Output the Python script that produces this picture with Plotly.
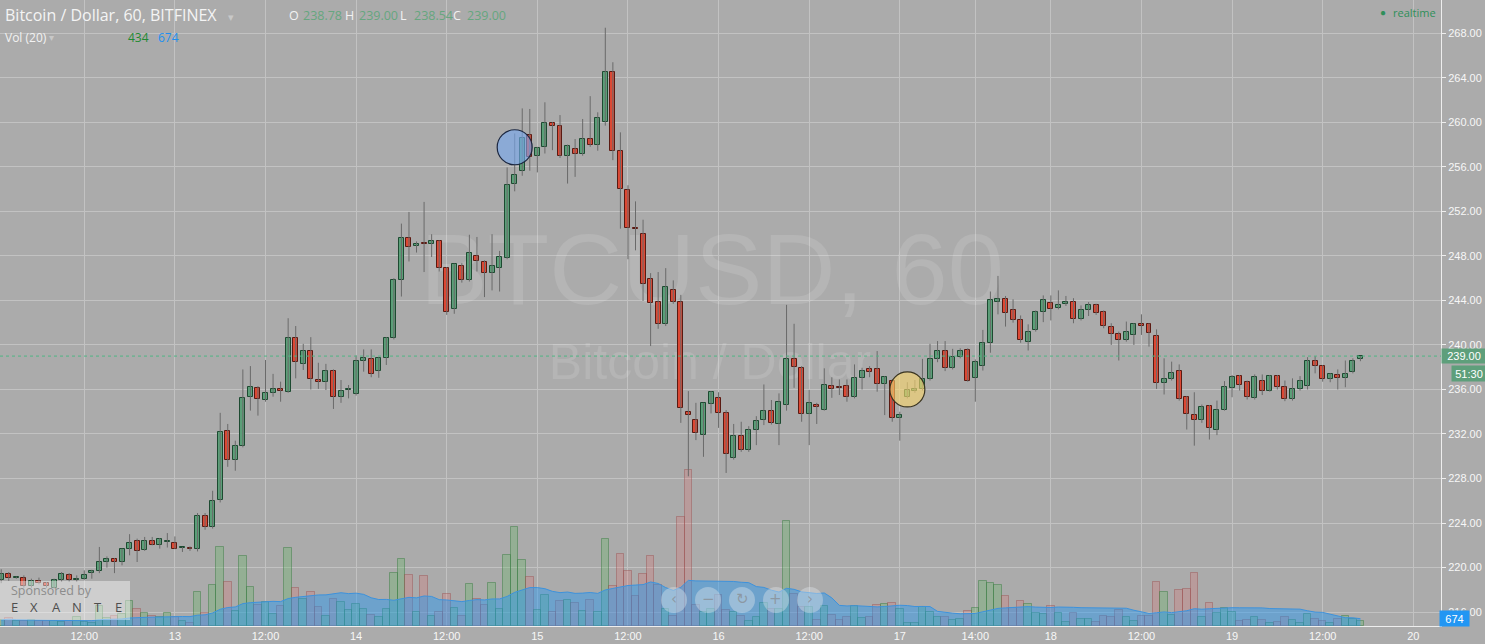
import plotly.graph_objects as go
import pandas as pd

# ---------------- data (hourly bars, BTC/USD Bitfinex) ----------------
opens = [218.85, 219.4, 219.08, 219.1, 218.3, 218.75, 218.6, 218.2, 218.85, 219.3,
         218.85, 219.0, 219.5, 219.7, 220.5, 220.75, 220.5, 221.65, 222.35, 221.55,
         222.35, 222.0, 222.33, 222.25, 221.78, 221.8, 221.65, 224.6, 223.6, 226.1,
         232.25, 229.65, 230.9, 235.3, 236.1, 235.05, 235.65, 236.0, 235.8, 240.6,
         238.3, 239.5, 236.8, 236.7, 237.7, 235.3, 235.98, 235.6, 238.6, 238.7,
         237.7, 238.8, 240.6, 245.8, 249.65, 248.85, 249.12, 249.05, 249.3, 246.9,
         243.25, 247.05, 245.85, 247.95, 247.45, 246.5, 246.95, 247.85, 254.45, 255.6,
         258.9, 256.95, 257.8, 259.9, 259.7, 256.95, 257.6, 257.15, 258.5, 257.95,
         260.0, 264.5, 257.4, 253.9, 250.55, 249.95, 245.9, 243.85, 241.85, 244.9,
         243.9, 233.95, 233.3, 231.95, 234.7, 235.2, 233.85, 229.8, 231.8, 230.55,
         232.35, 233.3, 234.05, 232.9, 234.65, 238.7, 237.9, 233.8, 234.65, 234.2,
         236.35, 236.18, 236.35, 235.3, 237.0, 237.8, 237.8, 236.45, 236.8, 233.4,
         235.35, 235.85, 236.0, 236.9, 238.7, 239.45, 237.9, 238.9, 239.55, 237.0,
         238.1, 240.15, 243.9, 244.1, 243.1, 242.2, 240.25, 241.3, 243.0, 243.75,
         243.3, 243.65, 243.9, 242.3, 243.1, 243.55, 242.95, 241.6, 240.95, 240.4,
         240.85, 241.82, 241.85, 240.8, 236.55, 236.95, 237.65, 235.3, 233.75, 233.3,
         234.5, 232.4, 234.2, 236.1, 237.2, 236.65, 235.2, 236.8, 235.9, 237.2,
         236.2, 235.1, 236.0, 236.3, 238.6, 238.15, 236.9, 237.3, 237.0, 237.55,
         238.78]
highs = [219.85, 219.6, 219.2, 219.3, 219.0, 219.1, 218.7, 219.0, 219.6, 219.5,
         219.3, 219.75, 219.8, 221.85, 221.0, 220.85, 221.7, 223.0, 222.6, 222.75,
         222.75, 222.65, 223.1, 222.8, 221.85, 221.9, 224.9, 224.9, 226.9, 233.9,
         232.9, 231.4, 237.8, 238.1, 236.3, 238.65, 237.4, 236.7, 242.4, 241.7,
         240.1, 240.7, 238.4, 238.3, 237.8, 236.85, 236.4, 239.05, 239.6, 239.6,
         238.9, 240.7, 246.0, 250.9, 251.95, 249.3, 252.85, 249.95, 249.4, 247.0,
         247.3, 247.35, 249.9, 249.7, 247.6, 249.95, 248.45, 255.95, 259.0, 261.25,
         261.2, 257.8, 261.8, 260.0, 260.65, 258.0, 258.5, 260.3, 262.35, 260.9,
         268.5, 265.4, 259.1, 254.35, 252.9, 251.25, 246.45, 246.55, 246.9, 245.8,
         244.5, 235.85, 234.8, 234.8, 235.85, 235.75, 234.15, 232.9, 233.1, 232.7,
         233.6, 236.45, 235.05, 235.65, 243.6, 241.9, 238.1, 235.95, 234.8, 237.9,
         237.1, 236.9, 236.9, 238.25, 237.95, 238.1, 239.45, 237.2, 236.9, 234.0,
         236.65, 236.85, 238.75, 240.1, 240.35, 240.35, 239.65, 239.7, 239.7, 238.7,
         241.35, 244.8, 246.2, 244.4, 244.1, 242.65, 241.85, 243.1, 244.45, 244.45,
         244.9, 244.4, 244.2, 243.55, 243.85, 243.7, 243.1, 241.95, 241.2, 242.1,
         241.95, 242.75, 241.95, 241.4, 238.8, 238.5, 238.25, 235.4, 235.75, 234.65,
         234.6, 235.0, 236.75, 237.3, 237.3, 236.8, 237.35, 237.35, 237.3, 237.3,
         236.8, 237.0, 237.2, 238.9, 239.0, 238.2, 237.45, 237.8, 238.6, 238.8,
         239.0]
lows = [218.6, 218.8, 219.0, 218.2, 218.2, 218.5, 218.2, 218.1, 218.7, 218.7,
        218.7, 218.9, 219.0, 219.5, 220.0, 219.5, 220.2, 221.1, 220.5, 221.5,
        222.0, 221.7, 221.8, 221.65, 221.4, 221.5, 221.45, 223.4, 223.5, 225.85,
        229.05, 228.7, 230.8, 234.1, 233.65, 234.9, 235.35, 234.9, 235.7, 237.0,
        237.75, 236.0, 236.05, 235.95, 234.25, 234.8, 235.2, 235.45, 237.6, 237.1,
        237.05, 238.2, 240.5, 244.35, 247.5, 248.3, 246.55, 247.9, 246.6, 242.7,
        242.8, 245.6, 245.7, 246.6, 244.3, 244.9, 244.8, 247.7, 253.8, 255.2,
        255.65, 255.5, 257.2, 257.5, 256.8, 254.5, 255.1, 257.0, 257.8, 257.45,
        259.7, 256.6, 250.45, 247.7, 248.5, 243.95, 239.9, 241.45, 241.7, 243.7,
        233.0, 228.2, 231.45, 229.95, 233.85, 232.55, 228.5, 229.7, 230.4, 230.4,
        231.0, 232.8, 232.85, 231.0, 234.1, 236.15, 233.1, 231.0, 232.9, 234.1,
        235.25, 235.5, 234.9, 235.2, 236.0, 237.1, 235.8, 233.7, 233.1, 231.4,
        235.2, 235.7, 235.9, 236.8, 238.45, 237.65, 237.8, 238.8, 236.7, 234.9,
        237.7, 239.3, 242.75, 241.65, 242.0, 240.2, 239.5, 241.2, 242.05, 242.2,
        243.2, 243.5, 241.95, 242.2, 242.6, 242.7, 241.5, 240.0, 238.6, 240.3,
        240.0, 240.9, 239.85, 236.05, 235.55, 236.8, 235.0, 232.4, 230.95, 233.0,
        231.5, 231.9, 234.1, 235.3, 235.9, 235.1, 235.1, 235.5, 235.8, 236.0,
        234.95, 235.0, 235.9, 236.0, 237.45, 236.7, 236.65, 236.0, 236.2, 237.45,
        238.54]
closes = [219.4, 219.1, 219.12, 218.3, 218.75, 218.6, 218.3, 218.85, 219.4, 218.85,
          219.0, 219.3, 219.7, 220.5, 220.75, 220.5, 221.65, 222.2, 221.5, 222.35,
          222.0, 222.55, 222.37, 221.7, 221.82, 221.65, 224.6, 223.6, 225.95, 232.15,
          229.65, 230.9, 235.2, 236.2, 235.1, 235.65, 236.05, 235.9, 240.6, 238.5,
          239.5, 236.9, 236.7, 237.7, 235.3, 235.9, 236.02, 238.6, 238.8, 237.35,
          238.8, 240.6, 245.8, 249.65, 248.8, 249.1, 249.08, 249.3, 246.9, 243.0,
          247.25, 245.85, 248.25, 247.5, 246.5, 247.05, 247.9, 254.35, 255.25, 258.55,
          256.9, 257.65, 259.9, 259.7, 256.95, 257.85, 257.15, 258.5, 257.95, 260.35,
          264.5, 257.4, 254.0, 250.55, 250.4, 245.5, 243.8, 241.85, 245.25, 243.9,
          234.3, 233.75, 232.1, 234.75, 235.75, 233.9, 230.2, 231.8, 230.55, 232.35,
          233.15, 234.05, 233.0, 234.85, 238.7, 238.05, 233.8, 234.75, 234.45, 236.4,
          236.05, 236.12, 235.3, 237.0, 237.65, 237.55, 236.45, 237.1, 233.4, 233.7,
          235.95, 236.05, 236.95, 238.7, 239.45, 237.9, 238.95, 239.45, 236.8, 238.45,
          240.15, 244.0, 244.1, 242.85, 242.2, 240.4, 241.2, 243.0, 244.0, 243.2,
          243.55, 243.85, 242.3, 243.1, 243.55, 242.85, 241.7, 240.95, 240.4, 241.15,
          241.85, 241.78, 241.05, 236.55, 236.95, 237.5, 235.1, 233.8, 233.3, 234.45,
          232.5, 234.2, 236.2, 237.1, 236.4, 235.3, 237.1, 235.9, 237.2, 236.2,
          235.1, 236.0, 236.8, 238.55, 238.15, 236.9, 237.35, 237.0, 237.35, 238.6,
          239.0]
volumes = [560, 720, 470, 470, 560, 470, 470, 470, 370, 470,
           810, 370, 250, 1870, 750, 940, 1120, 2340, 1560, 1190,
           940, 870, 1190, 810, 500, 250, 3150, 1190, 3810, 7360,
           4110, 1400, 6520, 3620, 1940, 2240, 1090, 1840, 7260, 3520,
           2520, 3180, 1750, 940, 2520, 2220, 1500, 2030, 1590, 1000,
           810, 1590, 4960, 6240, 4740, 1280, 4650, 940, 1280, 2960,
           1650, 940, 3900, 2520, 1960, 4020, 1590, 6640, 9260, 6170,
           4580, 1500, 2900, 1280, 2340, 2430, 2150, 1400, 2430, 1280,
           8130, 3740, 6730, 5140, 2810, 4860, 6550, 3830, 1560, 910,
           10190, 14590, 1960, 1280, 1560, 2900, 1500, 1280, 960, 500,
           840, 2150, 1590, 1590, 9820, 2990, 1800, 1800, 560, 1870,
           1060, 560, 870, 1870, 780, 870, 1960, 2060, 2150, 1590,
           280, 280, 1800, 1340, 870, 870, 560, 630, 1400, 1650,
           4180, 3990, 3810, 2780, 1650, 2310, 2030, 1190, 1090, 1840,
           1190, 350, 1190, 630, 630, 350, 910, 810, 1470, 810,
           440, 910, 910, 4090, 3150, 1000, 3340, 3430, 4930, 810,
           2120, 1190, 1650, 1280, 440, 530, 810, 530, 250, 350,
           810, 530, 250, 1090, 630, 440, 250, 630, 910, 630,
           434]

# x-axis ticks (bar index -> label)
tick_pos = [11, 23, 35, 47, 59, 71, 83, 95, 107, 119, 129, 139, 151, 163, 175, 187]
tick_text = ["12:00", "13", "12:00", "14", "12:00", "15", "12:00", "16",
             "12:00", "17", "14:00", "18", "12:00", "19", "12:00", "20"]
price_ticks = [216, 220, 224, 228, 232, 236, 240, 244, 248, 252, 256, 260, 264, 268]

# drawn circle markers (bar index, price)
marker_idx = [68, 120]
marker_price = [257.76, 236.0]

# header texts
title_text = "Bitcoin / Dollar, 60, BITFINEX"
vol_label = "Vol (20)"
vol_last_text = "434"
vol_ma_text = "674"
countdown_text = "51:30"

# ---------------- styling ----------------
BG = "#ababab"
GRID = "#c2c2c2"
UP_FILL, UP_EDGE = "#5b9f78", "#1d4a31"
DN_FILL, DN_EDGE = "#dc4834", "#5a1a12"
WICK = "#6a6a6a"
AXIS_TXT = "#f7f7f7"
W_PLOT, H_PLOT = 1441, 626
X_RANGE = [-0.16, 190.67]
P_RANGE = [214.75, 270.99]
V_RANGE = [0, 58500]


def pxx(x):
    return x / W_PLOT


def pxy(y):
    return 1 - y / H_PLOT


n = len(closes)
idx = list(range(n))
up = [c >= o for o, c in zip(opens, closes)]

fig = go.Figure()

# watermark (drawn first, under everything)
fig.add_trace(go.Scatter(
    x=[X_RANGE[0] + pxx(712) * (X_RANGE[1] - X_RANGE[0])],
    y=[V_RANGE[1] * (1 - 279 / H_PLOT)],
    mode="text", text=["BTCUSD, 60"], textposition="middle center",
    textfont=dict(family="Liberation Sans, Arial", size=101, color="rgba(255,255,255,0.12)"),
    hoverinfo="skip", xaxis="x", yaxis="y"))
fig.add_trace(go.Scatter(
    x=[X_RANGE[0] + pxx(710) * (X_RANGE[1] - X_RANGE[0])],
    y=[V_RANGE[1] * (1 - 366 / H_PLOT)],
    mode="text", text=["Bitcoin / Dollar"], textposition="middle center",
    textfont=dict(family="Liberation Sans, Arial", size=50, color="rgba(255,255,255,0.12)"),
    hoverinfo="skip", xaxis="x", yaxis="y"))

# volume bars
fig.add_trace(go.Bar(
    x=idx, y=volumes, width=1.0, xaxis="x", yaxis="y",
    marker=dict(color=["rgba(95,185,95,0.30)" if u else "rgba(235,100,100,0.22)" for u in up],
                line=dict(color=["rgba(50,120,60,0.45)" if u else "rgba(150,70,70,0.40)" for u in up],
                          width=1)),
    hoverinfo="skip"))

# volume moving average (20)
vol_ma = pd.Series(volumes, dtype=float).rolling(20, min_periods=1).mean()
fig.add_trace(go.Scatter(
    x=idx, y=vol_ma, mode="lines", fill="tozeroy",
    line=dict(color="#3d92dc", width=1),
    fillcolor="rgba(33,150,243,0.45)", xaxis="x", yaxis="y", hoverinfo="skip"))

# wicks
wx, wy = [], []
for i, (h, l) in enumerate(zip(highs, lows)):
    wx += [i, i, None]
    wy += [l, h, None]
fig.add_trace(go.Scatter(x=wx, y=wy, mode="lines", line=dict(color=WICK, width=1),
                         xaxis="x", yaxis="y2", hoverinfo="skip", connectgaps=False))

# bodies
MIN_BODY = 0.12
bases, heights = [], []
for o, c in zip(opens, closes):
    lo, hi = min(o, c), max(o, c)
    if hi - lo < MIN_BODY:
        mid = (lo + hi) / 2
        lo, hi = mid - MIN_BODY / 2, mid + MIN_BODY / 2
    bases.append(lo)
    heights.append(hi - lo)
fig.add_trace(go.Bar(
    x=idx, y=heights, base=bases, width=0.66, xaxis="x", yaxis="y2",
    marker=dict(color=[UP_FILL if u else DN_FILL for u in up],
                line=dict(color=[UP_EDGE if u else DN_EDGE for u in up], width=1)),
    hoverinfo="skip"))

# circle markers
fig.add_trace(go.Scatter(
    x=marker_idx, y=marker_price, mode="markers", xaxis="x", yaxis="y2",
    marker=dict(size=35, color=["rgba(120,170,240,0.62)", "rgba(250,215,110,0.62)"],
                line=dict(color=["#1c2740", "#3a3420"], width=1.2)),
    hoverinfo="skip"))

shapes = []
# last price dotted line
shapes.append(dict(type="line", xref="paper", x0=0, x1=1, yref="y2", y0=closes[-1], y1=closes[-1],
                   line=dict(color="#4fb583", width=1, dash="dot"), layer="above"))
# sponsor box
shapes.append(dict(type="rect", xref="paper", yref="paper", x0=pxx(0), x1=pxx(130),
                   y0=pxy(620), y1=pxy(581), fillcolor="rgba(255,255,255,0.42)",
                   line=dict(width=0), layer="above"))
# navigation buttons
nav_x = [674, 708, 742, 776, 810]
nav_icons = ["‹", "−", "↻", "+", "›"]
for cx in nav_x:
    shapes.append(dict(type="circle", xref="paper", yref="paper",
                       x0=pxx(cx - 13), x1=pxx(cx + 13), y0=pxy(613), y1=pxy(587),
                       fillcolor="rgba(225,230,235,0.40)", line=dict(width=0), layer="above"))

ann = []


def label(text, x, y, size=12, color="#f2f2f2", family="Open Sans, Noto Sans", anchor="left", **kw):
    ann.append(dict(text=text, x=pxx(x), y=pxy(y), xref="paper", yref="paper",
                    xanchor=anchor, yanchor="middle", showarrow=False,
                    font=dict(size=size, color=color, family=family), **kw))


# header line 1
label(title_text, 3, 15, size=16, color="#f4f4f4")
label("▾", 226, 16, size=11, color="#c8c8c8")
hdr_vals = [f"{opens[-1]:.2f}", f"{highs[-1]:.2f}", f"{lows[-1]:.2f}", f"{closes[-1]:.2f}"]
hdr_keys = ["O", "H", "L", "C"]
hdr_kx = [287, 343, 398, 451]
for k, v, kx in zip(hdr_keys, hdr_vals, hdr_kx):
    label(k, kx, 15, size=12.5, color="#f2f2f2")
    label(v, kx + 14, 15, size=12.5, color="#66a67f")
# header line 2
label(vol_label, 3, 37, size=12, color="#f2f2f2")
label("▾", 47, 37, size=10, color="#c8c8c8")
label(vol_last_text, 126, 37, size=12, color="#1f8a33")
label(vol_ma_text, 156, 37, size=12, color="#1e90f0")
# realtime
label("●", 1378, 12, size=10, color="#2f8f5a")
label("realtime", 1391, 12, size=11, color="#2f8f5a")
# sponsor
label("Sponsored by", 9, 590, size=12.5, color="#8c8c8c")
for ch, cx in zip(["E", "X", "A", "N", "T", "E"], [14, 34, 56, 77, 98, 118]):
    label(ch, cx, 607, size=13, color="#4e4e4e", anchor="center")
# nav icons
for ic, cx in zip(nav_icons, nav_x):
    label(ic, cx, 599, size=15, color="rgba(140,150,160,0.95)", family="DejaVu Sans", anchor="center")

# price label boxes
ann.append(dict(text=f"{closes[-1]:.2f}", x=1.0, y=closes[-1], xref="paper", yref="y2",
                xanchor="left", yanchor="middle", showarrow=False, bgcolor="#5e9f7b",
                width=40, height=10, borderpad=2, align="center",
                font=dict(size=11, color="#ffffff", family="Liberation Sans, Arial")))
ann.append(dict(text=countdown_text, x=pxx(1451), y=closes[-1], xref="paper", yref="y2",
                xanchor="left", yanchor="middle", yshift=-17, showarrow=False, bgcolor="#5e9f7b",
                width=30, height=11, borderpad=2, align="center",
                font=dict(size=11, color="#ffffff", family="Liberation Sans, Arial")))
ann.append(dict(text=vol_ma_text, x=pxx(1439), y=float(vol_ma.iloc[-1]), xref="paper", yref="y",
                xanchor="left", yanchor="middle", showarrow=False, bgcolor="#2196f3",
                width=25, height=11, borderpad=2, align="center",
                font=dict(size=11, color="#ffffff", family="Liberation Sans, Arial")))

fig.update_layout(
    width=1485, height=644,
    margin=dict(l=0, r=1485 - W_PLOT, t=0, b=644 - H_PLOT),
    paper_bgcolor=BG, plot_bgcolor=BG,
    barmode="overlay", showlegend=False, bargap=0,
    xaxis=dict(range=X_RANGE, tickvals=tick_pos, ticktext=tick_text, showgrid=True,
               gridcolor=GRID, gridwidth=1, zeroline=False, showline=True, linecolor="#eeeeee",
               linewidth=1, ticks="", tickfont=dict(family="Liberation Sans, Arial", size=11, color=AXIS_TXT),
               fixedrange=True),
    yaxis=dict(range=V_RANGE, visible=False, fixedrange=True),
    yaxis2=dict(range=P_RANGE, overlaying="y", side="right", tickvals=price_ticks,
                ticktext=[f"{v:.2f}" for v in price_ticks], showgrid=True, gridcolor=GRID,
                gridwidth=1, zeroline=False, showline=True, linecolor="#eeeeee", linewidth=1,
                ticks="outside", ticklen=4, tickcolor="#eeeeee",
                tickfont=dict(family="Liberation Sans, Arial", size=11, color=AXIS_TXT),
                fixedrange=True),
    shapes=shapes, annotations=ann,
)

fig.write_html("out.html", config={"displayModeBar": False},
               post_script="document.body.style.margin='0';document.body.style.overflow='hidden';")
